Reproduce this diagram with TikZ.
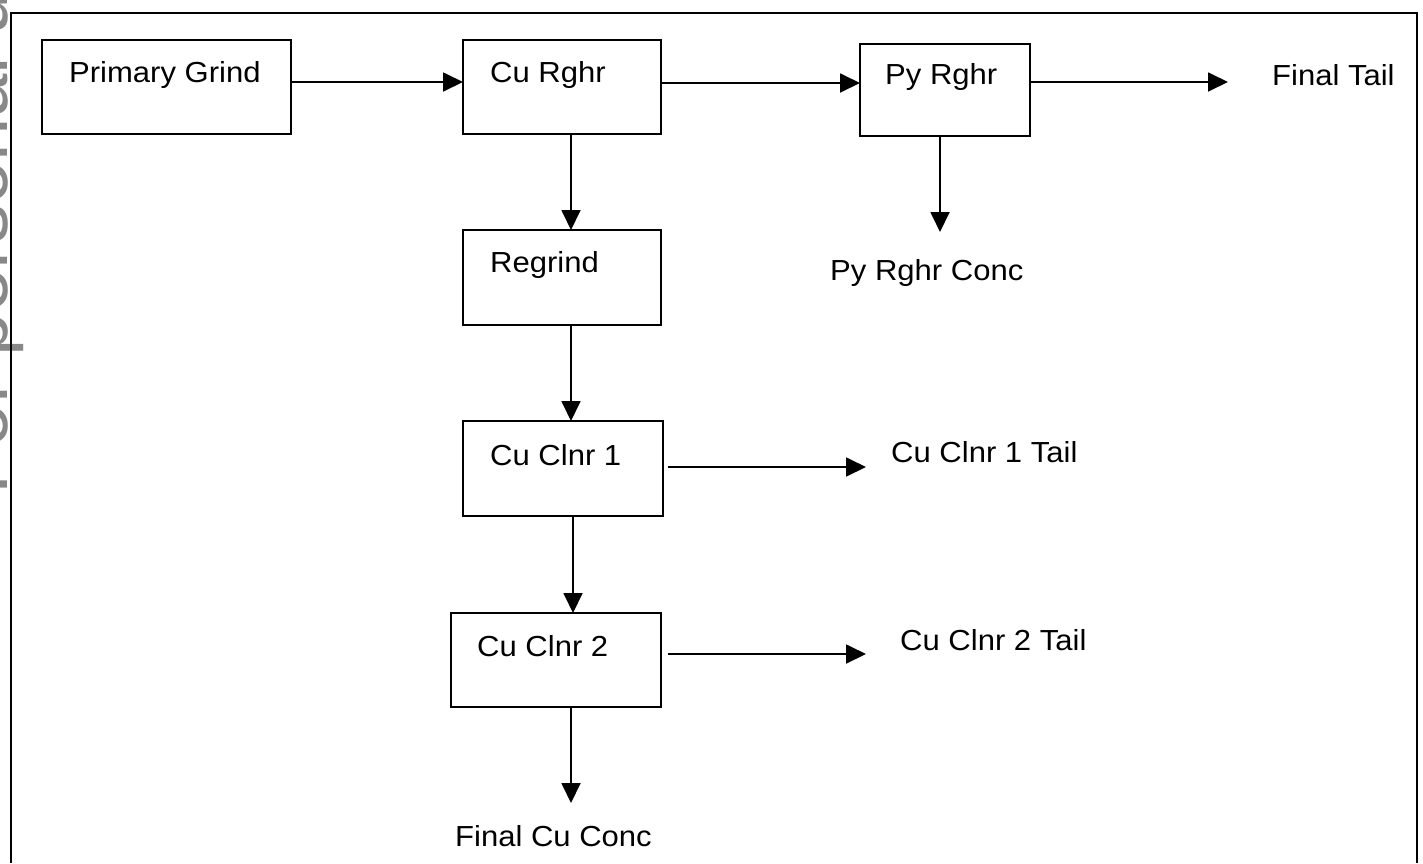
\documentclass[tikz,border=0pt]{standalone}
\usepackage{fontspec}
\setmainfont{Liberation Sans}
\newfontfamily\widesans[FakeStretch=1.07]{Liberation Sans}
\usetikzlibrary{arrows.meta}
\definecolor{wmgray}{RGB}{136,136,136}
\begin{document}
\begin{tikzpicture}[x=1pt,y=-1pt,
  box/.style={draw, line width=1.6pt, inner sep=0pt, outer sep=0pt},
  lbl/.style={anchor=base west, inner sep=0pt, font=\widesans\fontsize{29}{34}\selectfont, text=black},
  arr/.style={line width=1.8pt, -{Triangle[length=20pt,width=19pt]}}]
\useasboundingbox (0,0) rectangle (1423,863);
% watermark, clipped at the left edge
\begin{scope}
  \clip (0,0) rectangle (30,863);
  \node[rotate=90, anchor=base west, inner sep=0pt, text=wmgray,
        font=\fontsize{78}{80}\selectfont] (wm) at (8,495) {For personal use only};
\end{scope}
% frame
\draw[line width=1.9pt] (11,863) -- (11,13) -- (1417,13) -- (1417,863);
% boxes
\node[box, minimum width=249pt, minimum height=94pt] (pg)  at (166.5,87) {};
\node[box, minimum width=198pt, minimum height=94pt] (cur) at (562,87) {};
\node[box, minimum width=170pt, minimum height=92pt] (pyr) at (945,90) {};
\node[box, minimum width=198pt, minimum height=95pt] (rg)  at (562,277.5) {};
\node[box, minimum width=200pt, minimum height=95pt] (c1)  at (563,468.5) {};
\node[box, minimum width=210pt, minimum height=94pt] (c2)  at (556,660) {};
% texts
\node[lbl] (pgT)  at (69,82)   {Primary Grind};
\node[lbl] (curT) at (490,82)  {Cu Rghr};
\node[lbl] (pyrT) at (885,84)  {Py Rghr};
\node[lbl] (ft)   at (1272,85) {Final Tail};
\node[lbl] (rgT)  at (490,272) {Regrind};
\node[lbl] (pyc)  at (830,280) {Py Rghr Conc};
\node[lbl] (c1T)  at (490,465) {Cu Clnr 1};
\node[lbl] (c1t)  at (891,462) {Cu Clnr 1 Tail};
\node[lbl] (c2T)  at (477,656) {Cu Clnr 2};
\node[lbl] (c2t)  at (900,650) {Cu Clnr 2 Tail};
\node[lbl] (fcc)  at (455,846) {Final Cu Conc};
% arrow tips at free ends
\coordinate (ftTip)  at (1228,82);
\coordinate (pycTip) at (940,232);
\coordinate (c1Tip)  at (866,467);
\coordinate (c2Tip)  at (866,654);
\coordinate (fccTip) at (571,803);
% connectors
\draw[arr] (pg.east |- 0,82) -- (cur.west |- 0,82);
\draw[arr] (cur.east |- 0,83) -- (pyr.west |- 0,83);
\draw[arr] (pyr.east |- 0,82) -- (ftTip);
\draw[arr] (pyr.south -| pycTip) -- (pycTip);
\draw[arr] (cur.south -| 571,0) -- (rg.north -| 571,0);
\draw[arr] (rg.south -| 571,0) -- (c1.north -| 571,0);
\draw[arr] ([xshift=5pt]c1.east |- c1Tip) -- (c1Tip);
\draw[arr] (c1.south -| 573,0) -- (c2.north -| 573,0);
\draw[arr] ([xshift=7pt]c2.east |- c2Tip) -- (c2Tip);
\draw[arr] (c2.south -| fccTip) -- (fccTip);
\end{tikzpicture}
\end{document}
